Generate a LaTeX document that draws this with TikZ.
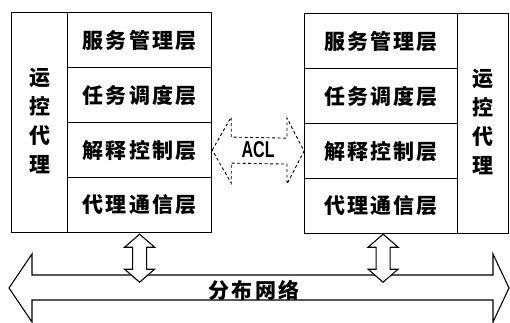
\documentclass[tikz,border=0pt]{standalone}
\usepackage{fontspec}
\newfontfamily\cjk{Noto Sans CJK SC}
\newfontfamily\cjkls{Noto Sans CJK SC}[LetterSpace=10]
\newfontfamily\aclfont{Liberation Sans}
\usetikzlibrary{calc}
\begin{document}
\begin{tikzpicture}[x=1pt,y=-1pt,
  box/.style={draw, line width=1.2pt, inner sep=0pt, anchor=north west},
  layer/.style={box, font=\cjkls\bfseries\fontsize{21}{21}\selectfont},
  vtext/.style={align=center, inner sep=0pt, font=\cjk\bfseries\fontsize{21}{29}\selectfont},
  fat/.style={draw, line width=1.1pt, line join=miter, fill=white},
  aclarrow/.style={draw, line width=0.9pt, dash pattern=on 3pt off 2.5pt}
]
\useasboundingbox (0,0) rectangle (510,323);
% left agent
\node[box, minimum width=56pt, minimum height=220pt] (LA) at (11,12) {};
\node[layer, minimum width=144pt, minimum height=55pt] (L1) at (67,12) {服务管理层};
\node[layer, minimum width=144pt, minimum height=55pt] (L2) at (67,67) {任务调度层};
\node[layer, minimum width=144pt, minimum height=55pt] (L3) at (67,122) {解释控制层};
\node[layer, minimum width=144pt, minimum height=55pt] (L4) at (67,177) {代理通信层};
\node[vtext] (LAt) at ($(LA.center)+(0,-2)$) {运\\控\\代\\理};
% right agent
\node[layer, minimum width=153pt, minimum height=55pt] (R1) at (304,13) {服务管理层};
\node[layer, minimum width=153pt, minimum height=55pt] (R2) at (304,68) {任务调度层};
\node[layer, minimum width=153pt, minimum height=55pt] (R3) at (304,123) {解释控制层};
\node[layer, minimum width=153pt, minimum height=55pt] (R4) at (304,178) {代理通信层};
\node[box, minimum width=51pt, minimum height=220pt] (RA) at (457,13) {};
\node[vtext] (RAt) at ($(RA.center)+(0,-2)$) {运\\控\\代\\理};
% ACL dashed double arrow
\coordinate (al) at (L3.east);
\coordinate (ar) at (R3.west);
\draw[aclarrow] (al) -- ++(19,-33) -- ++(0,20) -- ($(ar)+(-17,-13)$) -- ++(0,-20) -- (ar)
  -- ++(-17,33) -- ++(0,-20) -- ($(al)+(19,13)$) -- ++(0,20) -- cycle;
\node[inner sep=0pt, font=\aclfont\bfseries\fontsize{23}{23}\selectfont] (acl) at ($($(al)!0.5!(ar)$)+(0,-1)$) {\scalebox{0.7}[1]{ACL}};
% network arrow
\coordinate (nl) at (9,288);
\coordinate (nr) at (509,288);
\draw[fat] (nl) -- ++(23,-34) -- ++(0,21) -- ($(nr)+(-16,-13)$) -- ++(0,-21) -- (nr)
  -- ++(-16,34) -- ++(0,-22) -- ($(nl)+(23,12)$) -- ++(0,22) -- cycle;
\node[inner sep=0pt, font=\cjkls\bfseries\fontsize{21}{21}\selectfont] (net) at (254,290) {分布网络};
% vertical double arrows
\coordinate (lv) at ($(L4.south)+(0,1)$);
\coordinate (rv) at ($(R4.south)+(2,0)$);
\draw[fat] (lv) -- ++(15,13) -- ++(-8,0) -- ++(0,22) -- ++(8,0) -- ++(-15,13) -- ++(-15,-13)
  -- ++(8,0) -- ++(0,-22) -- ++(-8,0) -- cycle;
\draw[fat] (rv) -- ++(15,13) -- ++(-8,0) -- ++(0,22) -- ++(8,0) -- ++(-15,13) -- ++(-15,-13)
  -- ++(8,0) -- ++(0,-22) -- ++(-8,0) -- cycle;
\end{tikzpicture}
\end{document}
